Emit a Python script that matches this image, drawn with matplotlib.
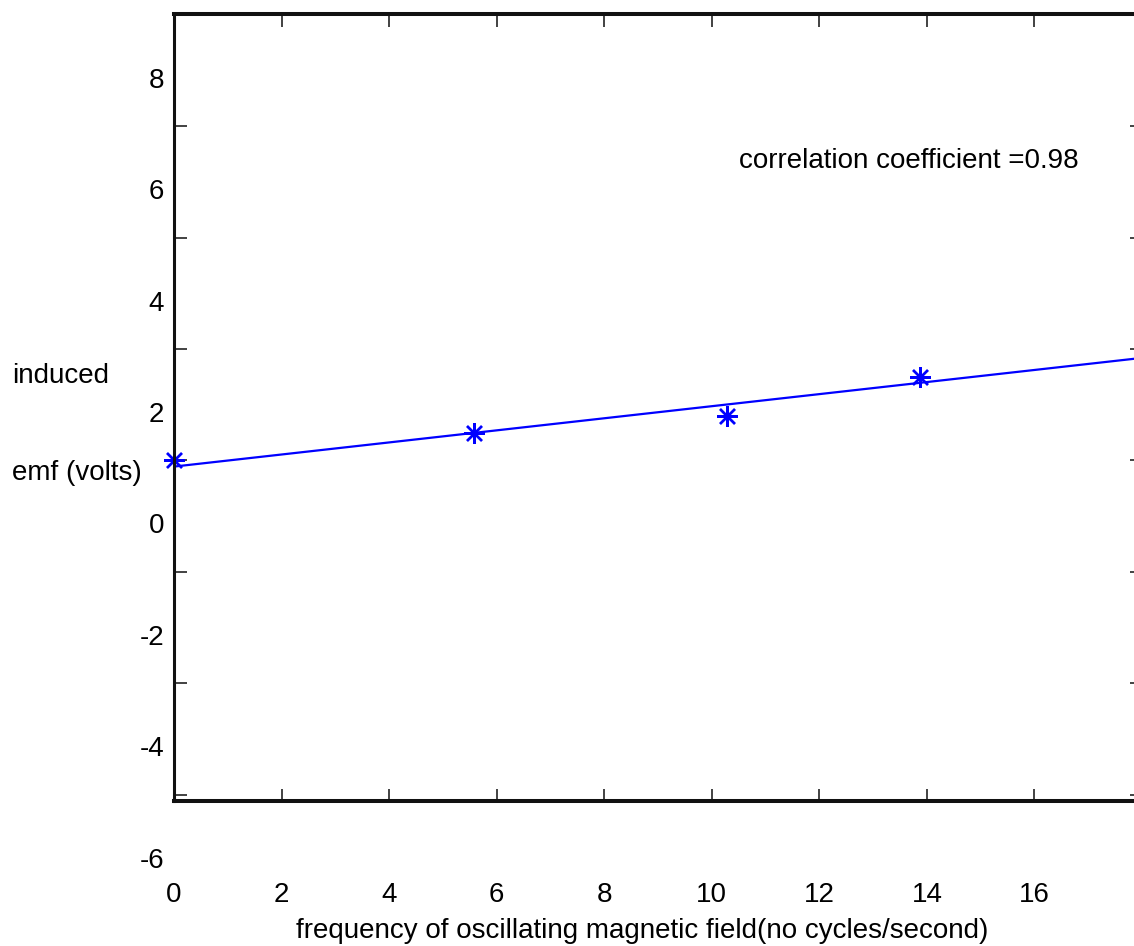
import numpy as np
import matplotlib
matplotlib.use('Agg')
import matplotlib.pyplot as plt
from matplotlib.transforms import ScaledTranslation

plt.rcParams['font.family'] = ['Liberation Sans', 'DejaVu Sans']
plt.rcParams['axes.unicode_minus'] = False

# measured points (frequency, emf)
freq = [0.0, 5.58, 10.28, 13.88]
emf = [0.0, 0.50, 0.79, 1.49]

# fitted line as drawn
fit_x = [0.0, 18.0]
fit_y = [-0.11, 1.84]

x_ticks = [0, 2, 4, 6, 8, 10, 12, 14, 16]
y_ticks = [-6, -4, -2, 0, 2, 4, 6, 8]
note = "correlation coefficient =0.98"

FS = 20
BLUE = '#0000ff'

fig = plt.figure(figsize=(11.34, 9.46), dpi=100)
ax = fig.add_axes([174/1134, 145/946, 968/1134, 787/946])

ax.plot(fit_x, fit_y, color=BLUE, lw=1.6)
ax.plot(freq, emf, linestyle='none', marker=(8, 2, 0), ms=15, mew=1.7,
        color=BLUE, clip_on=False)

ax.set_xlim(0, 18)
ax.set_ylim(-6.11, 8.01)

ax.set_xticks(x_ticks)
ax.set_yticks(y_ticks)
ax.tick_params(direction='in', length=9, width=1.2, colors='#222222',
               labelcolor='black', labelsize=FS, top=True, right=True)
ax.tick_params(axis='x', pad=58)
ax.tick_params(axis='y', pad=7)

# the tick labels sit lower than their ticks in the original
shift = ScaledTranslation(0, -63/100, fig.dpi_scale_trans)
for lab in ax.get_yticklabels():
    lab.set_transform(lab.get_transform() + shift)

ax.spines['left'].set_linewidth(2.2)
ax.spines['right'].set_linewidth(2.2)
ax.spines['top'].set_linewidth(2.9)
ax.spines['bottom'].set_linewidth(2.9)
for s in ax.spines.values():
    s.set_color('#111111')

ax.text(10.5, 5.37, note, fontsize=FS, ha='left', va='center')

ax.set_xlabel("frequency of oscillating magnetic field(no cycles/second)",
              fontsize=FS)
ax.xaxis.set_label_coords(0.4835, -0.149)

fig.text(12/1134, 1 - 376/946, "induced", fontsize=FS, ha='left', va='center')
fig.text(12/1134, 1 - 473/946, "emf (volts)", fontsize=FS, ha='left', va='center')

fig.savefig('out.png', dpi=100)
